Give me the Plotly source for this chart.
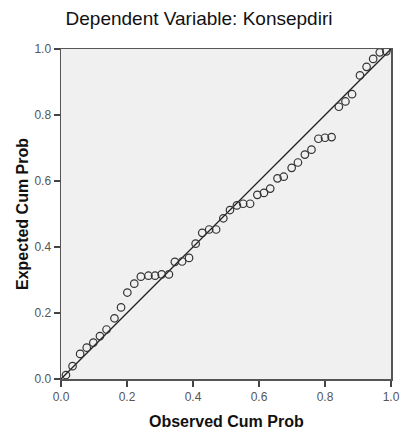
import plotly.graph_objects as go

observed_cum_prob = [0.015, 0.035, 0.058, 0.078, 0.098, 0.118, 0.138, 0.162, 0.182, 0.201,
                     0.222, 0.242, 0.265, 0.285, 0.305, 0.327, 0.345, 0.367, 0.388, 0.408,
                     0.428, 0.449, 0.470, 0.492, 0.512, 0.533, 0.552, 0.573, 0.595, 0.615,
                     0.634, 0.656, 0.675, 0.699, 0.718, 0.739, 0.759, 0.780, 0.800, 0.820,
                     0.842, 0.862, 0.882, 0.906, 0.926, 0.946, 0.966, 0.986]
expected_cum_prob = [0.012, 0.039, 0.076, 0.095, 0.110, 0.130, 0.150, 0.184, 0.217, 0.262,
                     0.289, 0.310, 0.313, 0.313, 0.317, 0.317, 0.355, 0.356, 0.367, 0.410,
                     0.443, 0.453, 0.453, 0.487, 0.512, 0.526, 0.531, 0.531, 0.558, 0.564,
                     0.577, 0.608, 0.613, 0.640, 0.656, 0.680, 0.695, 0.728, 0.731, 0.733,
                     0.825, 0.841, 0.863, 0.920, 0.946, 0.970, 0.990, 0.993]
ref_line = [0.0, 1.0]
tick_vals = [0.0, 0.2, 0.4, 0.6, 0.8, 1.0]
tick_text = ["0.0", "0.2", "0.4", "0.6", "0.8", "1.0"]

W, H = 400, 436
L, R, T, B = 61, 9, 49, 57
PW, PH = W - L - R, H - T - B

FONT = "Liberation Sans, Arial, sans-serif"

fig = go.Figure()
fig.add_trace(go.Scatter(x=ref_line, y=ref_line, mode="lines",
                         line=dict(color="#222222", width=1.3),
                         hoverinfo="skip", showlegend=False))
fig.add_trace(go.Scatter(x=observed_cum_prob, y=expected_cum_prob, mode="markers",
                         marker=dict(symbol="circle-open", size=7.5,
                                     color="#333333", line=dict(width=1.2, color="#333333")),
                         showlegend=False))

axis_common = dict(range=[0, 1], tickvals=tick_vals, ticktext=tick_text,
                   showgrid=False, zeroline=False, showline=True, mirror=True,
                   linecolor="#555555", linewidth=1.5, ticks="outside", ticklen=6,
                   tickcolor="#444444", tickwidth=1.3, automargin=False,
                   tickfont=dict(family=FONT, size=12, color="#555555"))

fig.update_layout(
    width=W, height=H,
    autosize=False,
    margin=dict(l=L, r=R, t=T, b=B, autoexpand=False),
    paper_bgcolor="#ffffff",
    plot_bgcolor="#f0f0f0",
    xaxis=dict(**axis_common),
    yaxis=dict(**axis_common),
    title=dict(text="Dependent Variable: Konsepdiri",
               font=dict(family=FONT, size=19, color="#111111"),
               x=199 / W, xref="container", xanchor="center",
               y=1 - 18 / H, yref="container", yanchor="middle"),
    annotations=[
        dict(text="<b>Observed Cum Prob</b>", xref="paper", yref="paper",
             x=0.5, y=-(421 - 379) / PH, xanchor="center", yanchor="middle",
             showarrow=False,
             font=dict(family=FONT, size=16, color="#111111")),
        dict(text="<b>Expected Cum Prob</b>", xref="paper", yref="paper",
             x=-(61 - 22) / PW, y=0.5, xanchor="center", yanchor="middle",
             textangle=-90, showarrow=False,
             font=dict(family=FONT, size=16, color="#111111")),
    ],
)

fig.write_html(
    "out.html",
    config={"displayModeBar": False, "staticPlot": True},
    post_script="document.documentElement.style.margin='0';document.documentElement.style.overflow='hidden';"
                "document.body.style.margin='0';document.body.style.padding='0';document.body.style.overflow='hidden';",
)
